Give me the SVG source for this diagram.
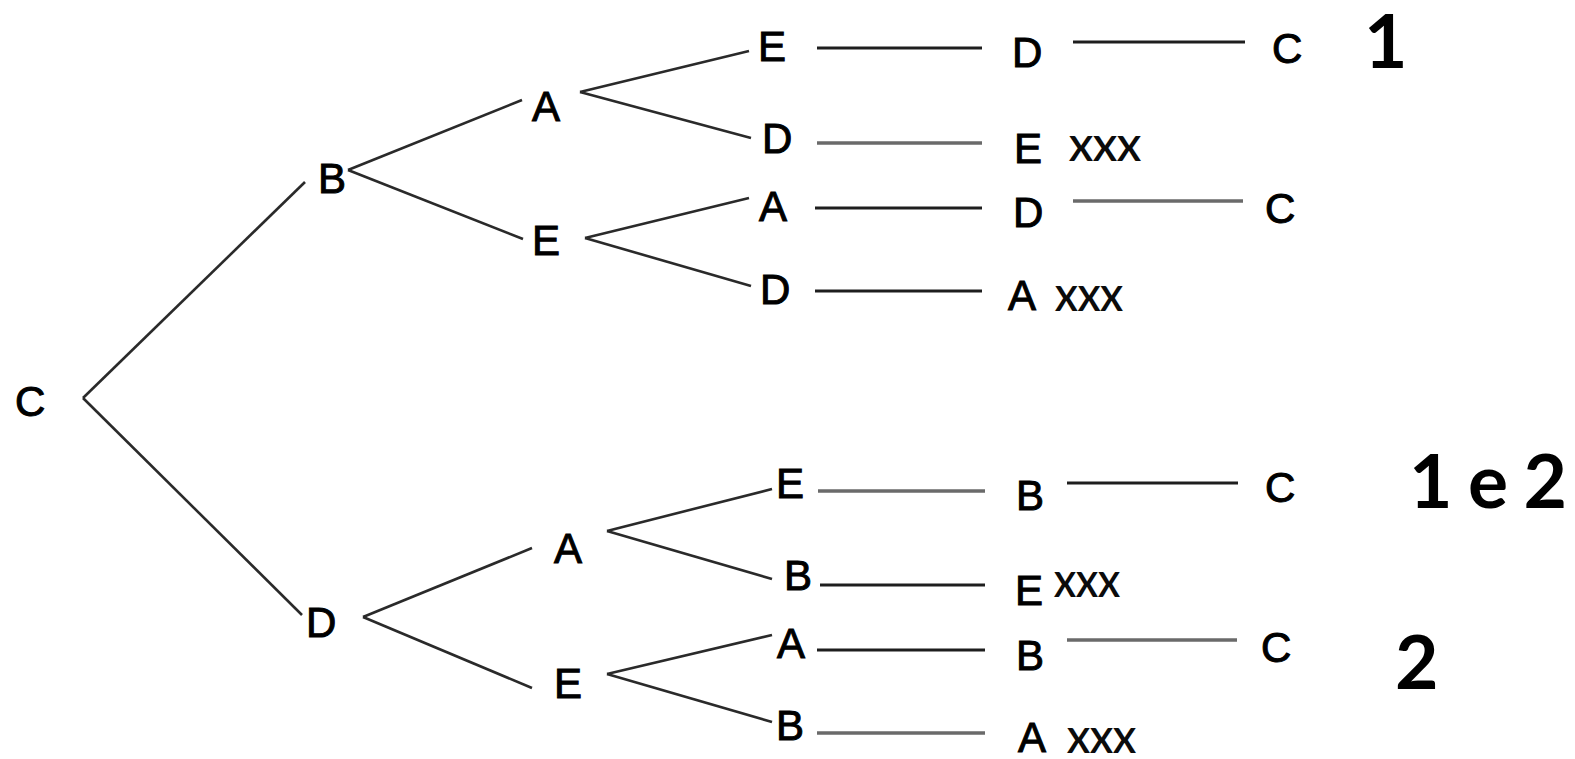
<svg xmlns="http://www.w3.org/2000/svg" width="1575" height="759" viewBox="0 0 1575 759">
  <style>
    .lbl { font-family: "Liberation Sans", Arial, sans-serif; font-size: 42px; fill: #000; stroke: #000; stroke-width: 1px; }
    .xxx { font-family: Lato, "Open Sans", sans-serif; font-size: 35px; font-weight: bold; fill: #0b0b0b; }
    .tag { font-family: Lato, "Open Sans", sans-serif; font-size: 75px; font-weight: bold; fill: #000; }
    .edge { stroke: #2a2a2a; stroke-width: 2.6; fill: none; stroke-linecap: butt; }
    .dark { stroke: #1e1e1e; stroke-width: 3; }
    .soft { stroke: #6a6a6a; stroke-width: 3.6; }
  </style>
  <rect width="1575" height="759" fill="#fff"/>

  <!-- tree branches -->
  <g id="connectors">
    <!-- root split -->
    <line class="edge" x1="83" y1="398" x2="305" y2="182"/>
    <line class="edge" x1="83" y1="398" x2="302" y2="615"/>
    <!-- upper half -->
    <line class="edge" x1="348" y1="170" x2="522" y2="100"/>
    <line class="edge" x1="348" y1="170" x2="523" y2="239"/>
    <line class="edge" x1="580" y1="92" x2="749" y2="51"/>
    <line class="edge" x1="580" y1="92" x2="751" y2="138"/>
    <line class="edge" x1="585" y1="238" x2="749" y2="198"/>
    <line class="edge" x1="585" y1="238" x2="751" y2="286"/>
    <!-- lower half -->
    <line class="edge" x1="363" y1="617" x2="532" y2="548"/>
    <line class="edge" x1="363" y1="617" x2="532" y2="688"/>
    <line class="edge" x1="607" y1="531" x2="772" y2="489"/>
    <line class="edge" x1="607" y1="531" x2="772" y2="579"/>
    <line class="edge" x1="607" y1="674" x2="772" y2="635"/>
    <line class="edge" x1="607" y1="674" x2="772" y2="722"/>
    <!-- horizontal runs -->
    <line class="dark" x1="817" y1="48" x2="982" y2="48"/>
    <line class="dark" x1="1073" y1="42" x2="1245" y2="42"/>
    <line class="soft" x1="817" y1="143" x2="982" y2="143"/>
    <line class="dark" x1="815" y1="208" x2="982" y2="208"/>
    <line class="soft" x1="1073" y1="201" x2="1243" y2="201"/>
    <line class="dark" x1="815" y1="291" x2="982" y2="291"/>
    <line class="soft" x1="818" y1="491" x2="985" y2="491"/>
    <line class="dark" x1="1067" y1="483" x2="1238" y2="483"/>
    <line class="dark" x1="820" y1="585" x2="985" y2="585"/>
    <line class="dark" x1="817" y1="650" x2="985" y2="650"/>
    <line class="soft" x1="1067" y1="640" x2="1237" y2="640"/>
    <line class="soft" x1="817" y1="733" x2="985" y2="733"/>
  </g>

  <!-- root -->
  <g id="n-C"><text class="lbl" x="15" y="416">C</text></g>

  <!-- first level -->
  <g id="n-CB"><text class="lbl" x="318" y="193">B</text></g>
  <g id="n-CD"><text class="lbl" x="306" y="637">D</text></g>

  <!-- second level -->
  <g id="n-CBA"><text class="lbl" x="532" y="121">A</text></g>
  <g id="n-CBE"><text class="lbl" x="532" y="255">E</text></g>
  <g id="n-CDA"><text class="lbl" x="554" y="563">A</text></g>
  <g id="n-CDE"><text class="lbl" x="554" y="698">E</text></g>

  <!-- third level -->
  <g id="n-CBAE"><text class="lbl" x="758" y="61">E</text></g>
  <g id="n-CBAD"><text class="lbl" x="762" y="153">D</text></g>
  <g id="n-CBEA"><text class="lbl" x="759" y="221">A</text></g>
  <g id="n-CBED"><text class="lbl" x="760" y="304">D</text></g>
  <g id="n-CDAE"><text class="lbl" x="776" y="498">E</text></g>
  <g id="n-CDAB"><text class="lbl" x="784" y="590">B</text></g>
  <g id="n-CDEA"><text class="lbl" x="777" y="658">A</text></g>
  <g id="n-CDEB"><text class="lbl" x="776" y="740">B</text></g>

  <!-- fourth level -->
  <g id="n-CBAED"><text class="lbl" x="1012" y="67">D</text></g>
  <g id="n-CBADE"><text class="lbl" x="1014" y="163">E</text><text class="xxx" x="1069" y="161" textLength="72" lengthAdjust="spacingAndGlyphs">XXX</text></g>
  <g id="n-CBEAD"><text class="lbl" x="1013" y="227">D</text></g>
  <g id="n-CBEDA"><text class="lbl" x="1008" y="310">A</text><text class="xxx" x="1055" y="311" textLength="68" lengthAdjust="spacingAndGlyphs">XXX</text></g>
  <g id="n-CDAEB"><text class="lbl" x="1016" y="510">B</text></g>
  <g id="n-CDABE"><text class="lbl" x="1015" y="605">E</text><text class="xxx" x="1054" y="597" textLength="66" lengthAdjust="spacingAndGlyphs">XXX</text></g>
  <g id="n-CDEAB"><text class="lbl" x="1016" y="670">B</text></g>
  <g id="n-CDEBA"><text class="lbl" x="1018" y="752">A</text><text class="xxx" x="1067" y="753" textLength="69" lengthAdjust="spacingAndGlyphs">XXX</text></g>

  <!-- closing returns to C -->
  <g id="n-CBAEDC"><text class="lbl" x="1272" y="63">C</text></g>
  <g id="n-CBEADC"><text class="lbl" x="1265" y="223">C</text></g>
  <g id="n-CDAEBC"><text class="lbl" x="1265" y="502">C</text></g>
  <g id="n-CDEABC"><text class="lbl" x="1261" y="662">C</text></g>

  <!-- route tags -->
  <g id="tag-1"><text class="tag" x="1364" y="68">1</text></g>
  <g id="tag-1e2"><text class="tag" x="1409" y="508" textLength="158" lengthAdjust="spacing">1 e 2</text></g>
  <g id="tag-2"><text class="tag" x="1395" y="689">2</text></g>
</svg>
